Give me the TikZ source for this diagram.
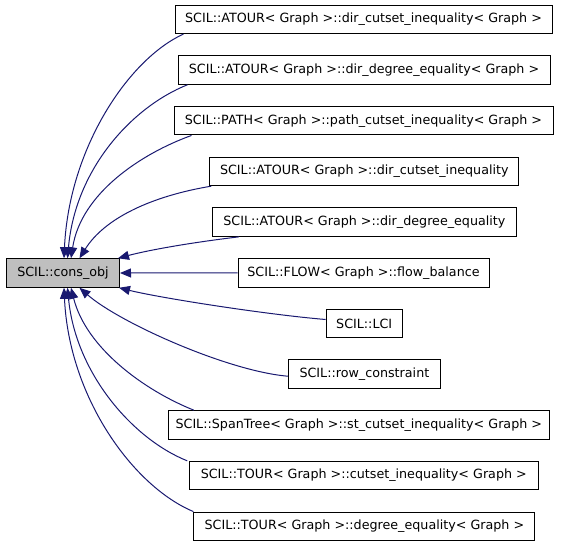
\documentclass[tikz,border=0pt]{standalone}
\usepackage{fontspec}
\setmainfont{DejaVu Sans}
\usepackage{tikz}
\usetikzlibrary{arrows.meta}
\definecolor{E}{RGB}{25, 25, 112}
\definecolor{F}{RGB}{191, 191, 191}

\begin{document}
\begin{tikzpicture}[x=1pt, y=-1pt,
  box/.style={draw=black, line width=1pt, fill=white, minimum height=28.5pt, inner sep=0pt, font=\fontsize{12.7}{15}\selectfont},
  edge/.style={E, line width=1pt, -{Triangle[length=11pt,width=9pt]}}]
  \useasboundingbox (0,0) rectangle (563,544);
  % base class
  \node[box, fill=F, minimum width=113pt] (cons) at (63,273) {SCIL::cons\_obj};
  % derived classes
  \node[box, minimum width=377pt] (b1) at (363.5,19.3) {SCIL::ATOUR< Graph >::dir\_cutset\_inequality< Graph >};
  \node[box, minimum width=372pt] (b2) at (364,70) {SCIL::ATOUR< Graph >::dir\_degree\_equality< Graph >};
  \node[box, minimum width=379pt] (b3) at (363.5,120.7) {SCIL::PATH< Graph >::path\_cutset\_inequality< Graph >};
  \node[box, minimum width=309pt] (b4) at (364.3,171.4) {SCIL::ATOUR< Graph >::dir\_cutset\_inequality};
  \node[box, minimum width=304pt] (b5) at (364.4,222.1) {SCIL::ATOUR< Graph >::dir\_degree\_equality};
  \node[box, minimum width=251pt] (b6) at (363.5,272.8) {SCIL::FLOW< Graph >::flow\_balance};
  \node[box, minimum width=76pt] (b7) at (364.2,323.5) {SCIL::LCI};
  \node[box, minimum width=152pt] (b8) at (364.4,374.2) {SCIL::row\_constraint};
  \node[box, minimum width=381pt] (b9) at (358.8,424.9) {SCIL::SpanTree< Graph >::st\_cutset\_inequality< Graph >};
  \node[box, minimum width=349pt] (b10) at (363.8,475.6) {SCIL::TOUR< Graph >::cutset\_inequality< Graph >};
  \node[box, minimum width=341pt] (b11) at (364.4,526.3) {SCIL::TOUR< Graph >::degree\_equality< Graph >};
  % inheritance arrows
  \draw[edge] ([xshift=9pt]b1.south west) .. controls +(-55,25) and +(5,-110) .. ([xshift=58pt]cons.north west);
  \draw[edge] ([xshift=10pt]b2.south west) .. controls +(-55,22) and +(8,-90) .. ([xshift=61.5pt]cons.north west);
  \draw[edge] ([xshift=18pt]b3.south west) .. controls +(-50,18) and +(10,-65) .. ([xshift=65pt]cons.north west);
  \draw[edge] ([xshift=2pt]b4.south west) .. controls +(-60,10) and +(25,-40) .. ([xshift=73.5pt]cons.north west);
  \draw[edge] ([xshift=27pt]b5.south west) .. controls +(-50,6) and +(30,-8) .. ([xshift=-2pt]cons.north east);
  \draw[edge] (b6.west) -- (cons.east);
  \draw[edge] ([yshift=4pt]b7.west) .. controls +(-60,-5) and +(40,10) .. ([xshift=-1pt]cons.south east);
  \draw[edge] ([yshift=-2pt]b8.west) .. controls +(-60,-5) and +(40,35) .. ([xshift=73.5pt]cons.south west);
  \draw[edge] ([xshift=26pt]b9.north west) .. controls +(-50,-20) and +(15,60) .. ([xshift=65pt]cons.south west);
  \draw[edge] ([xshift=-1.5pt]b10.north west) .. controls +(-55,-22) and +(8,85) .. ([xshift=61.5pt]cons.south west);
  \draw[edge] ([xshift=0pt]b11.north west) .. controls +(-60,-25) and +(5,110) .. ([xshift=58pt]cons.south west);
\end{tikzpicture}
\end{document}
